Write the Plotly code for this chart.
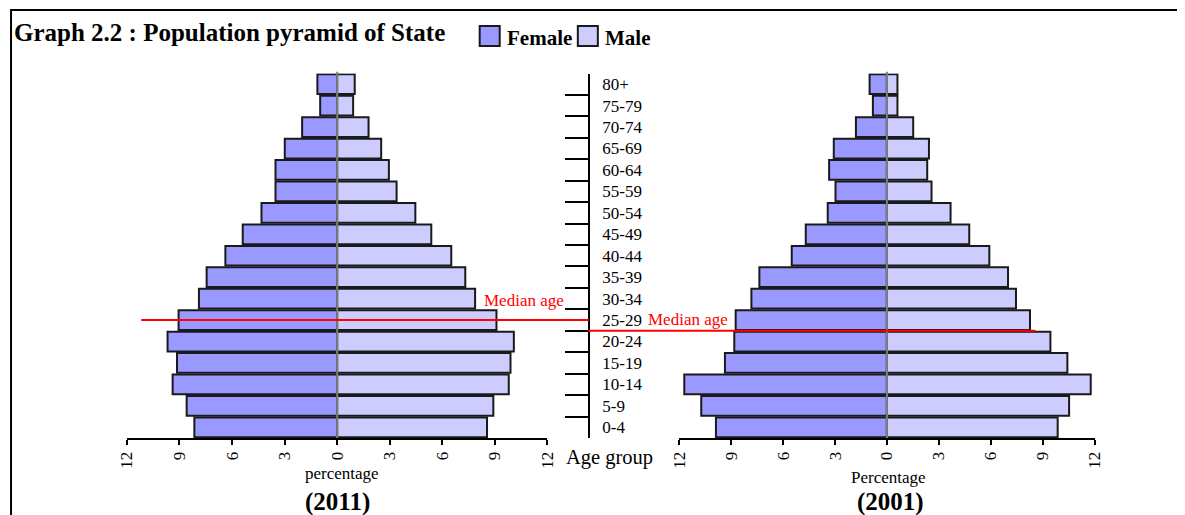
import plotly.graph_objects as go

age_groups = ["0-4", "5-9", "10-14", "15-19", "20-24", "25-29", "30-34", "35-39",
              "40-44", "45-49", "50-54", "55-59", "60-64", "65-69", "70-74", "75-79", "80+"]

female_2011 = [8.15, 8.59, 9.39, 9.14, 9.68, 9.05, 7.89, 7.45, 6.38, 5.39, 4.32, 3.52, 3.52, 2.99, 2.00, 0.97, 1.13]
male_2011 = [8.55, 8.91, 9.79, 9.89, 10.08, 9.09, 7.87, 7.31, 6.51, 5.37, 4.46, 3.39, 2.95, 2.51, 1.79, 0.91, 1.00]

female_2001 = [9.88, 10.73, 11.71, 9.36, 8.82, 8.74, 7.83, 7.37, 5.50, 4.69, 3.42, 2.97, 3.34, 3.07, 1.79, 0.81, 1.00]
male_2001 = [9.87, 10.53, 11.78, 10.43, 9.45, 8.27, 7.46, 7.00, 5.92, 4.76, 3.68, 2.58, 2.33, 2.43, 1.52, 0.61, 0.61]

# median age in years (drawn as a red line across the pyramid)
median_age_2011 = 27.5
median_age_2001 = 25.0

ticks = [-12, -9, -6, -3, 0, 3, 6, 9, 12]
tick_text = [str(abs(t)) for t in ticks]

FONT = "Liberation Serif, Times New Roman, serif"
FEMALE = "#9999FF"
MALE = "#CCCCFF"
EDGE = "#1a1a1a"
W, H = 1185, 515


# page pixel -> paper fraction (calibrated against the rendered page)
def px(x):
    return ((x - 17.96) / 0.9826) / W


def py(y):
    return (H - (y - 8)) / H


def note(text, x, y, size, color="black", xanchor="center"):
    fig.add_annotation(text=text, xref="paper", yref="paper", x=px(x), y=py(y),
                       xanchor=xanchor, yanchor="middle", showarrow=False,
                       font=dict(family=FONT, size=size, color=color))


fig = go.Figure()

for xa, fem, mal in [("x", female_2011, male_2011), ("x2", female_2001, male_2001)]:
    fig.add_trace(go.Bar(y=age_groups, x=[-v for v in fem], orientation="h", name="Female",
                         marker=dict(color=FEMALE, line=dict(color=EDGE, width=2)),
                         xaxis=xa, yaxis="y", showlegend=False))
    fig.add_trace(go.Bar(y=age_groups, x=mal, orientation="h", name="Male",
                         marker=dict(color=MALE, line=dict(color=EDGE, width=2)),
                         xaxis=xa, yaxis="y", showlegend=False))

xaxis_common = dict(range=[-12, 12], tickvals=ticks, ticktext=tick_text, tickangle=-90,
                    showline=True, linecolor="black", linewidth=2, ticks="outside",
                    ticklen=5, tickwidth=2, tickcolor="black", showgrid=False,
                    zeroline=False, anchor="y", fixedrange=True,
                    tickfont=dict(family=FONT, size=17, color="black"))

fig.update_layout(
    width=W, height=H,
    margin=dict(l=0, r=0, t=0, b=0),
    paper_bgcolor="white", plot_bgcolor="white",
    barmode="relative", bargap=0.08,
    font=dict(family=FONT, color="black"),
    xaxis=dict(domain=[px(127.7), px(547.7)], **xaxis_common),
    xaxis2=dict(domain=[px(679.3), px(1094)], **xaxis_common),
    yaxis=dict(type="category", categoryarray=age_groups, range=[-0.5, 16.5],
               tickmode="linear", tick0=0, dtick=1,
               domain=[py(438), py(73.5)], anchor="free", position=px(589),
               side="right", ticks="inside", tickson="boundaries", ticklen=23,
               tickwidth=2, tickcolor="black", showline=True, linecolor="black",
               linewidth=2, showgrid=False, ticklabelstandoff=9, fixedrange=True,
               tickfont=dict(family=FONT, size=17, color="black")),
    showlegend=False,
)

# zero lines on top of bars
for xa in ["x", "x2"]:
    fig.add_shape(type="line", xref=xa, yref="y domain", x0=0, x1=0, y0=0, y1=1.005,
                  line=dict(color="#808080", width=2))

# median age lines
pos_2011 = median_age_2011 / 5 - 0.5
pos_2001 = median_age_2001 / 5 - 0.5
fig.add_shape(type="line", xref="paper", yref="y", x0=px(142), x1=px(589), y0=pos_2011, y1=pos_2011,
              line=dict(color="red", width=2))
fig.add_shape(type="line", xref="paper", yref="y", x0=px(588), x1=px(1035), y0=pos_2001, y1=pos_2001,
              line=dict(color="red", width=2))
fig.add_annotation(text="Median age", xref="paper", yref="y", x=px(524), y=pos_2011, yshift=20,
                   xanchor="center", yanchor="middle",
                   showarrow=False, font=dict(family=FONT, size=17, color="red"))
fig.add_annotation(text="Median age", xref="paper", yref="y", x=px(688), y=pos_2001, yshift=11,
                   xanchor="center", yanchor="middle",
                   showarrow=False, font=dict(family=FONT, size=17, color="red"))

# legend boxes
for x0, label, color in [(480, "Female", FEMALE), (578, "Male", MALE)]:
    fig.add_shape(type="rect", xref="paper", yref="paper", x0=px(x0), x1=px(x0 + 20),
                  y0=py(46), y1=py(26), fillcolor=color, line=dict(color=EDGE, width=2))
    note("<b>" + label + "</b>", x0 + 25, 38, 21, xanchor="left")

# outer frame
fig.add_shape(type="rect", xref="paper", yref="paper", x0=px(12), x1=1.01, y0=-0.05, y1=py(10),
              line=dict(color="black", width=2))

# texts
note("<b>Graph 2.2 : Population pyramid of State</b>", 13, 32, 25, xanchor="left")
note("Age group", 610, 457, 20.5)
note("percentage", 343, 473, 17)
note("Percentage", 888, 477, 17)
note("<b>(2011)</b>", 338, 502, 25)
note("<b>(2001)</b>", 890, 502, 25)

fig.write_html("out.html")
